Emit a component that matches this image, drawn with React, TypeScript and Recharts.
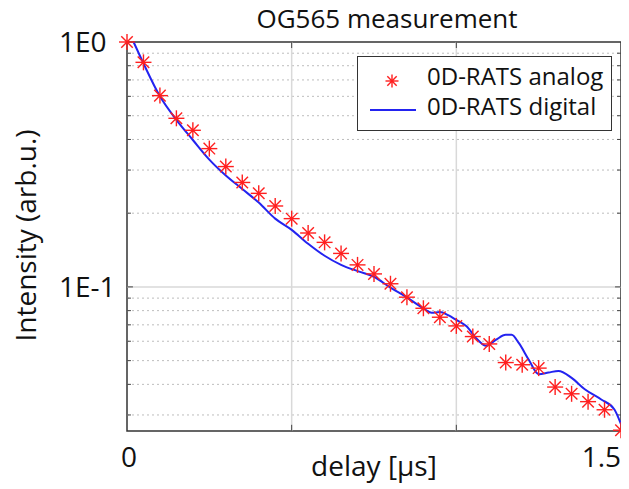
import React from 'react';
import {
  ComposedChart,
  XAxis,
  YAxis,
  Line,
  Scatter,
  ReferenceLine,
  ReferenceArea,
} from 'recharts';

const analogX = [
  0, 0.05, 0.1, 0.15, 0.2, 0.25, 0.3, 0.35, 0.4, 0.45, 0.5, 0.55, 0.6, 0.65, 0.7, 0.75,
  0.8, 0.85, 0.9, 0.95, 1.0, 1.05, 1.1, 1.15, 1.2, 1.25, 1.3, 1.35, 1.4, 1.45, 1.5,
];
const analogY = [
  1.0, 0.826, 0.604, 0.488, 0.436, 0.367, 0.31, 0.267, 0.241, 0.214, 0.19, 0.166, 0.152,
  0.137, 0.123, 0.113, 0.103, 0.0908, 0.0818, 0.0752, 0.0693, 0.0627, 0.0585, 0.0491,
  0.0481, 0.0466, 0.039, 0.0366, 0.034, 0.0315, 0.026,
];

const digitalX = [
  0.02, 0.05, 0.1, 0.15, 0.2, 0.25, 0.3, 0.35, 0.4, 0.45, 0.5, 0.55, 0.6, 0.65, 0.7, 0.75,
  0.8, 0.85, 0.9, 0.925, 0.95, 0.975, 1.0, 1.03, 1.065, 1.09, 1.12, 1.15, 1.168, 1.19,
  1.22, 1.25, 1.28, 1.31, 1.35, 1.39, 1.44, 1.48, 1.5,
];
const digitalY = [
  1.0, 0.818, 0.6, 0.481, 0.398, 0.331, 0.285, 0.251, 0.221, 0.19, 0.171, 0.15, 0.134,
  0.123, 0.116, 0.11, 0.0993, 0.0906, 0.0817, 0.0785, 0.0789, 0.0767, 0.0733, 0.0692,
  0.0608, 0.0575, 0.0608, 0.0637, 0.0637, 0.0589, 0.0504, 0.044, 0.0447, 0.0454, 0.0425,
  0.0382, 0.0347, 0.0316, 0.0275,
];

const majorY = [0.1];
const minorY = [0.03, 0.04, 0.05, 0.06, 0.07, 0.08, 0.09, 0.2, 0.3, 0.4, 0.5, 0.6, 0.7, 0.8, 0.9];
const majorX = [0.5, 1.0];
const yTickLabels: Record<string, string> = { '1': '1E0', '0.1': '1E-1' };
const xTickLabels: Record<string, string> = { '0': '0', '1.5': '1.5' };
const seriesNames = ['0D-RATS analog', '0D-RATS digital'];

const Y_MIN = 0.0258;
const Y_MAX = 1;
const X_MAX = 1.5;

const analogData = analogX.map((x, i) => ({ x, y: analogY[i] }));
const digitalData = digitalX.map((x, i) => ({ x, y: digitalY[i] }));

const FONT = '"Open Sans", sans-serif';
const TEXT = '#111';
const RED = '#ff1f1f';
const BLUE = '#2323f0';

const Star = ({ cx, cy, r = 8 }: { cx: number; cy: number; r?: number }) => {
  const d = r * 0.72;
  return (
    <g stroke={RED} strokeWidth={1.4}>
      <line x1={cx - r} y1={cy} x2={cx + r} y2={cy} />
      <line x1={cx} y1={cy - r} x2={cx} y2={cy + r} />
      <line x1={cx - d} y1={cy - d} x2={cx + d} y2={cy + d} />
      <line x1={cx - d} y1={cy + d} x2={cx + d} y2={cy - d} />
      <circle cx={cx} cy={cy} r={1.6} fill={RED} stroke="none" />
    </g>
  );
};

const XTick = (props: any) => {
  const { x, y, payload } = props;
  const label = xTickLabels[String(payload.value)];
  if (!label) return null;
  const last = payload.value === X_MAX;
  return (
    <text
      x={x + 2}
      y={y}
      dy={30}
      textAnchor={last ? 'end' : 'middle'}
      fontSize={28}
      fontFamily={FONT}
      fill={TEXT}
    >
      {label}
    </text>
  );
};

const YTick = (props: any) => {
  const { y, payload } = props;
  return (
    <text x={59} y={y} dy={10} textAnchor="start" fontSize={28} fontFamily={FONT} fill={TEXT}>
      {yTickLabels[String(payload.value)] ?? ''}
    </text>
  );
};

const LegendBox = () => (
  <div
    style={{
      position: 'absolute',
      left: 357,
      top: 56,
      width: 253,
      height: 73,
      border: '1.5px solid #333',
      background: '#fff',
      fontFamily: FONT,
      fontSize: 24,
      color: TEXT,
    }}
  >
    <svg width={60} height={72} style={{ position: 'absolute', left: 0, top: 0 }}>
      <Star cx={34} cy={24} r={6.5} />
      <line x1={12} y1={53} x2={58} y2={53} stroke={BLUE} strokeWidth={2} />
    </svg>
    <div style={{ position: 'absolute', left: 69, top: 4, lineHeight: '30px', whiteSpace: 'nowrap' }}>
      {seriesNames[0]}
    </div>
    <div style={{ position: 'absolute', left: 69, top: 34, lineHeight: '30px', whiteSpace: 'nowrap' }}>
      {seriesNames[1]}
    </div>
  </div>
);

export default function App() {
  const tx = 0.012;
  return (
    <div style={{ position: 'relative', width: 629, height: 489, margin: '-8px 0 0 -8px', background: '#fff' }}>
      <ComposedChart width={629} height={489} margin={{ top: 42, right: 8, left: 0, bottom: 0 }}>
        <XAxis
          dataKey="x"
          type="number"
          domain={[0, X_MAX]}
          ticks={[0, 0.5, 1, 1.5]}
          tick={<XTick />}
          tickLine={false}
          axisLine={false}
          tickSize={0}
          tickMargin={6}
          height={58}
          label={{
            value: 'delay [µs]',
            position: 'insideBottom',
            offset: 13,
            fontSize: 28,
            fontFamily: FONT,
            fill: TEXT,
          }}
        />
        <YAxis
          dataKey="y"
          type="number"
          scale="log"
          domain={[Y_MIN, Y_MAX]}
          ticks={[0.1, 1]}
          tick={<YTick />}
          tickLine={false}
          axisLine={false}
          tickSize={0}
          width={127}
          label={{
            value: 'Intensity (arb.u.)',
            angle: -90,
            position: 'center',
            dx: -37,
            dy: -1,
            fontSize: 28,
            fontFamily: FONT,
            fill: TEXT,
          }}
        />

        {minorY.map((v) => (
          <ReferenceLine key={`my-${v}`} y={v} stroke="#bdbdbd" strokeDasharray="2 3" strokeWidth={1} />
        ))}
        {majorY.map((v) => (
          <ReferenceLine key={`My-${v}`} y={v} stroke="#d9d9d9" strokeWidth={1.5} />
        ))}
        {majorX.map((v) => (
          <ReferenceLine key={`Mx-${v}`} x={v} stroke="#d9d9d9" strokeWidth={1.5} />
        ))}

        {minorY.map((v) => (
          <ReferenceLine key={`tl-${v}`} segment={[{ x: 0, y: v }, { x: tx, y: v }]} stroke="#444" />
        ))}
        {minorY.map((v) => (
          <ReferenceLine key={`tr-${v}`} segment={[{ x: X_MAX - tx, y: v }, { x: X_MAX, y: v }]} stroke="#444" />
        ))}
        {majorY.map((v) => (
          <ReferenceLine key={`Tl-${v}`} segment={[{ x: 0, y: v }, { x: tx * 1.5, y: v }]} stroke="#444" />
        ))}
        {majorY.map((v) => (
          <ReferenceLine
            key={`Tr-${v}`}
            segment={[{ x: X_MAX - tx * 1.5, y: v }, { x: X_MAX, y: v }]}
            stroke="#444"
          />
        ))}
        {majorX.map((v) => (
          <ReferenceLine key={`Tb-${v}`} segment={[{ x: v, y: Y_MIN }, { x: v, y: Y_MIN * 1.06 }]} stroke="#444" />
        ))}
        {majorX.map((v) => (
          <ReferenceLine key={`Tt-${v}`} segment={[{ x: v, y: Y_MAX }, { x: v, y: Y_MAX * 0.945 }]} stroke="#444" />
        ))}

        <ReferenceArea x1={0} x2={X_MAX} y1={Y_MIN} y2={Y_MAX} fill="none" stroke="#333" strokeWidth={1.5} />

        <Line
          data={digitalData}
          dataKey="y"
          name={seriesNames[1]}
          type="monotone"
          stroke={BLUE}
          strokeWidth={2}
          dot={false}
          isAnimationActive={false}
        />
        <Scatter
          data={analogData}
          dataKey="y"
          name={seriesNames[0]}
          shape={(p: any) => <Star cx={p.cx} cy={p.cy} />}
          isAnimationActive={false}
        />
      </ComposedChart>
      <div
        style={{
          position: 'absolute',
          left: 237,
          width: 300,
          top: 3,
          textAlign: 'center',
          fontFamily: FONT,
          fontSize: 26,
          lineHeight: '30px',
          color: TEXT,
          whiteSpace: 'nowrap',
        }}
      >
        OG565 measurement
      </div>
      <LegendBox />
    </div>
  );
}
